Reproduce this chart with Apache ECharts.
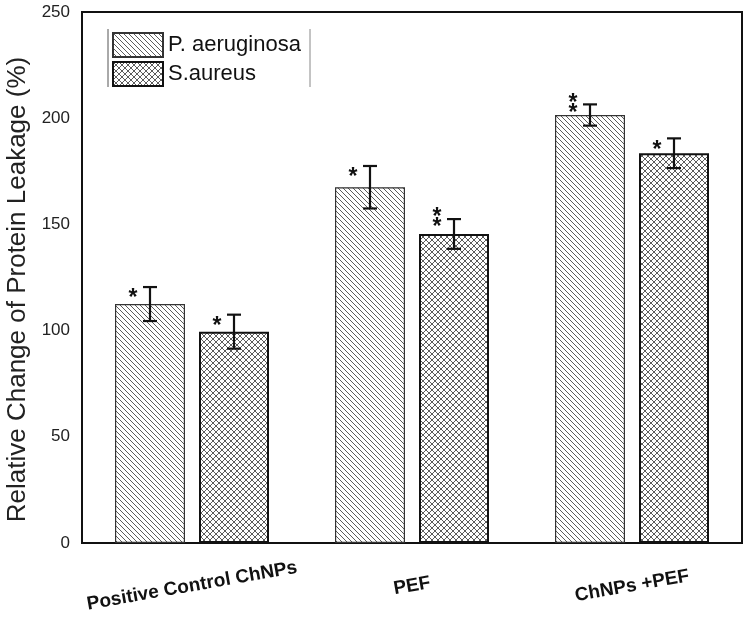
<!DOCTYPE html>
<html>
<head>
<meta charset="utf-8">
<script src="https://cdn.jsdelivr.net/npm/echarts@6/dist/echarts.min.js"></script>
<style>
html,body{margin:0;padding:0;background:#fff;}
#chart{width:748px;height:621px;}
</style>
</head>
<body>
<div id="chart"></div>
<script>
// ---- data ----
const categories = ['Positive Control ChNPs', 'PEF', 'ChNPs +PEF'];
const seriesNames = ['P. aeruginosa', 'S.aureus'];
const pValues = [112.5, 167.5, 201.5];
const pErrors = [8, 10, 5];
const sValues = [99.5, 145.5, 183.5];
const sErrors = [8, 7, 7];
const pSig = ['*', '*', '**'];
const sSig = ['*', '**', '*'];
const yMin = 0, yMax = 250, yStep = 50;
const yTitle = 'Relative Change of Protein Leakage (%)';

// ---- styles ----
const BAR_W = 70;
const BAR_GAP = 0.2;
const FONT = '"Liberation Sans", Arial, sans-serif';

function makePattern(size, cross) {
  const c = document.createElement('canvas');
  c.width = size; c.height = size;
  const ctx = c.getContext('2d');
  ctx.fillStyle = '#fff';
  ctx.fillRect(0, 0, size, size);
  ctx.strokeStyle = '#4a4a4a';
  ctx.lineWidth = 0.9;
  for (let k = -size; k <= size; k += size) {
    ctx.beginPath(); ctx.moveTo(k, 0); ctx.lineTo(k + size, size); ctx.stroke();
    if (cross) { ctx.beginPath(); ctx.moveTo(k, size); ctx.lineTo(k + size, 0); ctx.stroke(); }
  }
  return c;
}
const hatch = { image: makePattern(5, false), repeat: 'repeat' };
const crossHatch = { image: makePattern(6, true), repeat: 'repeat' };

const step = BAR_W * (1 + BAR_GAP);
const offsets = [-step / 2, step / 2];

function errRender(offset, errs, sigs) {
  return function (params, api) {
    const i = api.value(0), v = api.value(1), e = errs[params.dataIndex];
    const c = api.coord([i, v]);
    const x = c[0] + offset;
    const yt = api.coord([i, v + e])[1];
    const yb = api.coord([i, v - e])[1];
    const cap = 7;
    const st = { stroke: '#111', lineWidth: 2.2 };
    const children = [
      { type: 'line', shape: { x1: x, y1: yt, x2: x, y2: yb }, style: st },
      { type: 'line', shape: { x1: x - cap, y1: yt, x2: x + cap, y2: yt }, style: st },
      { type: 'line', shape: { x1: x - cap, y1: yb, x2: x + cap, y2: yb }, style: st }
    ];
    const sig = sigs[params.dataIndex];
    const ys = sig.length === 2 ? [yt - 7, yt + 3] : [yt + 6];
    ys.forEach(function (yy) {
      children.push({
        type: 'text',
        style: { text: '*', x: x - 17, y: yy + 6, fill: '#111', font: 'bold 23px ' + FONT,
                 textAlign: 'center', textVerticalAlign: 'middle' }
      });
    });
    return { type: 'group', children: children };
  };
}

const chart = echarts.init(document.getElementById('chart'), null, { renderer: 'canvas' });
chart.setOption({
  animation: false,
  backgroundColor: '#fff',
  grid: { left: 82, right: 6, top: 12, bottom: 78, outerBoundsMode: 'none', containLabel: false,
          show: true, borderColor: '#111', borderWidth: 2, backgroundColor: 'transparent' },
  legend: {
    data: seriesNames,
    orient: 'vertical',
    left: 112, top: 32, padding: 0,
    itemWidth: 50, itemHeight: 24, itemGap: 3,
    icon: 'rect',
    textStyle: { fontSize: 22, color: '#111', fontFamily: FONT }
  },
  graphic: [
    { type: 'line', shape: { x1: 108, y1: 29, x2: 108, y2: 87 }, style: { stroke: '#555', lineWidth: 1 } },
    { type: 'line', shape: { x1: 310, y1: 29, x2: 310, y2: 87 }, style: { stroke: '#888', lineWidth: 1 } }
  ],
  xAxis: {
    type: 'category',
    data: categories,
    axisLine: { lineStyle: { color: '#111', width: 2 } },
    axisTick: { show: false },
    axisLabel: {
      rotate: 10, align: 'center', verticalAlign: 'middle', margin: 43,
      fontSize: 19, fontWeight: 'bold', color: '#111', fontFamily: FONT
    }
  },
  yAxis: {
    type: 'value', min: yMin, max: yMax, interval: yStep,
    name: yTitle, nameLocation: 'middle', nameGap: 43,
    nameTextStyle: { fontSize: 26, color: '#222', fontFamily: FONT, padding: [0, 24, 0, 0] },
    axisLine: { show: true, lineStyle: { color: '#111', width: 2 } },
    axisTick: { show: false },
    splitLine: { show: false },
    axisLabel: { fontSize: 17, color: '#222', margin: 12, fontFamily: FONT }
  },
  series: [
    {
      name: seriesNames[0], type: 'bar', data: pValues, barWidth: BAR_W, barGap: (BAR_GAP * 100) + '%',
      itemStyle: { color: hatch, borderColor: '#333', borderWidth: 1.2 }
    },
    {
      name: seriesNames[1], type: 'bar', data: sValues, barWidth: BAR_W,
      itemStyle: { color: crossHatch, borderColor: '#111', borderWidth: 2 }
    },
    {
      type: 'custom', name: 'errP', data: pValues.map(function (v, i) { return [i, v]; }),
      renderItem: errRender(offsets[0], pErrors, pSig), z: 5
    },
    {
      type: 'custom', name: 'errS', data: sValues.map(function (v, i) { return [i, v]; }),
      renderItem: errRender(offsets[1], sErrors, sSig), z: 5
    }
  ]
});
</script>
</body>
</html>
